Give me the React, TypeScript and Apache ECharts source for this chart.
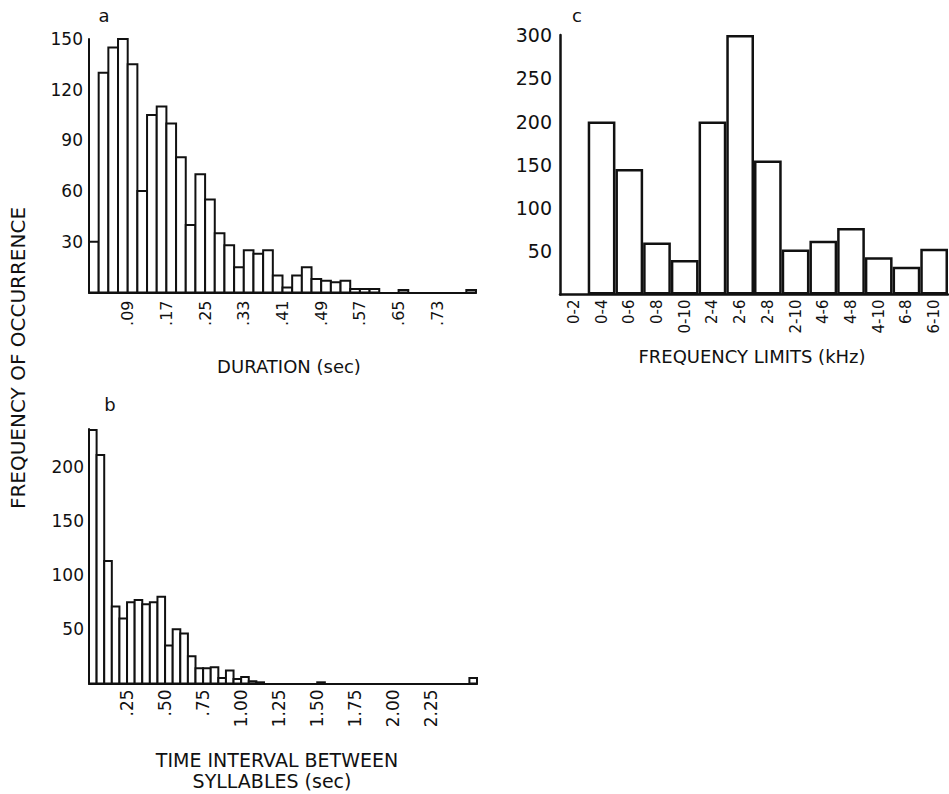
import React, { useEffect, useRef } from 'react';
import * as echarts from 'echarts';

// Panel a: syllable duration histogram (bins of 0.02 s starting at 0.01 s)
const durationBinStart = 0.01;
const durationBinWidth = 0.02;
const durationCounts = [
  30, 130, 145, 150, 135, 60, 105, 110, 100, 80,
  40, 70, 55, 35, 28, 15, 25, 23, 25, 10,
  3, 10, 15, 8, 7, 6, 7, 2, 2, 2,
  0, 0, 1.5, 0, 0, 0, 0, 0, 0, 1.5,
];
const durationXTicks = [0.09, 0.17, 0.25, 0.33, 0.41, 0.49, 0.57, 0.65, 0.73];
const durationYTicks = [30, 60, 90, 120, 150];

// Panel b: time interval between syllables (bins of 0.05 s starting at 0)
const intervalBinStart = 0;
const intervalBinWidth = 0.05;
const intervalCounts = [
  234, 211, 113, 71, 60, 75, 77, 73, 75, 80,
  35, 50, 46, 25, 14, 14, 15, 5, 12, 4,
  6, 2, 1, 0, 0, 0, 0, 0, 0, 0,
  1, 0, 0, 0, 0, 0, 0, 0, 0, 0,
  0, 0, 0, 0, 0, 0, 0, 0, 0, 0,
  5,
];
const intervalXTicks = [0.25, 0.5, 0.75, 1.0, 1.25, 1.5, 1.75, 2.0, 2.25];
const intervalYTicks = [50, 100, 150, 200];

// Panel c: frequency limits
const freqCategories = ['0-2', '0-4', '0-6', '0-8', '0-10', '2-4', '2-6', '2-8', '2-10', '4-6', '4-8', '4-10', '6-8', '6-10'];
const freqCounts = [0, 200, 145, 60, 40, 200, 300, 155, 52, 62, 77, 43, 32, 53];
const freqYTicks = [50, 100, 150, 200, 250, 300];

const FONT = "'DejaVu Sans', 'Noto Sans', sans-serif";
const INK = '#111';

function histData(start: number, width: number, counts: number[]) {
  return counts.map((c, i) => [start + i * width, start + (i + 1) * width, c]);
}

function fmtDec(v: number) {
  return (Math.round(v * 100) / 100).toFixed(2).replace(/^0/, '');
}

const renderHist = (lw: number) => (params: any, api: any) => {
  const x0 = api.value(0);
  const x1 = api.value(1);
  const v = api.value(2);
  if (!v) return null;
  const p0 = api.coord([x0, 0]);
  const p1 = api.coord([x1, v]);
  return {
    type: 'rect',
    shape: { x: p0[0], y: p1[1], width: p1[0] - p0[0], height: p0[1] - p1[1] },
    style: { fill: '#fff', stroke: INK, lineWidth: lw },
  };
};

const axisLineStyle = (w: number) => ({ show: true, lineStyle: { color: INK, width: w } });

export default function App() {
  const ref = useRef<HTMLDivElement>(null);

  useEffect(() => {
    if (!ref.current) return;
    const chart = echarts.init(ref.current, undefined, { renderer: 'svg' });
    const lbl = (size: number) => ({ color: INK, fontFamily: FONT, fontSize: size });
    const title = (text: string, x: number, y: number, size: number, rotation = 0) => ({
      type: 'text', x, y, rotation,
      style: { text, font: `${size}px ${FONT}`, fill: INK, textAlign: 'center', textVerticalAlign: 'middle' },
    });

    chart.setOption({
      animation: false,
      backgroundColor: '#fff',
      grid: [
        { left: 89, top: 39, width: 387, height: 253.5 },
        { left: 89, top: 429, width: 388, height: 254.4 },
        { left: 560, top: 35, width: 388, height: 259.5 },
      ],
      xAxis: [
        {
          gridIndex: 0, type: 'value', min: 0.01, max: 0.81,
          axisLine: axisLineStyle(2), axisTick: { show: false }, splitLine: { show: false },
          axisLabel: { ...lbl(16), customValues: durationXTicks, rotate: 90, margin: 8, formatter: (v: number) => fmtDec(v) },
        },
        {
          gridIndex: 1, type: 'value', min: 0, max: 2.55,
          axisLine: axisLineStyle(2), axisTick: { show: false }, splitLine: { show: false },
          axisLabel: { ...lbl(17), customValues: intervalXTicks, rotate: 90, margin: 6, formatter: (v: number) => fmtDec(v) },
        },
        {
          gridIndex: 2, type: 'category', data: freqCategories, boundaryGap: true,
          axisLine: axisLineStyle(2.5), axisTick: { show: false }, splitLine: { show: false },
          axisLabel: { ...lbl(15), rotate: 90, margin: 5, interval: 0 },
        },
      ],
      yAxis: [
        {
          gridIndex: 0, type: 'value', min: 0, max: 150,
          axisLine: axisLineStyle(2), axisTick: { show: false }, splitLine: { show: false },
          axisLabel: { ...lbl(17), customValues: durationYTicks, margin: 6 },
        },
        {
          gridIndex: 1, type: 'value', min: 0, max: 235,
          axisLine: axisLineStyle(2), axisTick: { show: false }, splitLine: { show: false },
          axisLabel: { ...lbl(17), customValues: intervalYTicks, margin: 5 },
        },
        {
          gridIndex: 2, type: 'value', min: 0, max: 300,
          axisLine: axisLineStyle(2.5), axisTick: { show: false }, splitLine: { show: false },
          axisLabel: { ...lbl(19), customValues: freqYTicks, margin: 8 },
        },
      ],
      series: [
        {
          type: 'custom', xAxisIndex: 0, yAxisIndex: 0,
          renderItem: renderHist(2),
          data: histData(durationBinStart, durationBinWidth, durationCounts),
          encode: { x: [0, 1], y: 2 },
          clip: false,
        },
        {
          type: 'custom', xAxisIndex: 1, yAxisIndex: 1,
          renderItem: renderHist(2),
          data: histData(intervalBinStart, intervalBinWidth, intervalCounts),
          encode: { x: [0, 1], y: 2 },
          clip: false,
        },
        {
          type: 'bar', xAxisIndex: 2, yAxisIndex: 2,
          data: freqCounts.map((c) => (c === 0 ? '-' : c)),
          barWidth: '100%', barCategoryGap: '0%',
          itemStyle: { color: '#fff', borderColor: INK, borderWidth: 2.5 },
        },
      ],
      graphic: [
        title('a', 104, 15, 18),
        title('b', 110, 404, 18),
        title('c', 577, 15, 18),
        title('DURATION (sec)', 289, 366, 18),
        title('FREQUENCY LIMITS (kHz)', 752, 356, 18),
        title('TIME INTERVAL BETWEEN', 277, 760, 19),
        title('SYLLABLES (sec)', 272, 781, 19),
        title('FREQUENCY OF OCCURRENCE', 18, 358, 20, Math.PI / 2),
      ],
    });

    return () => chart.dispose();
  }, []);

  return <div ref={ref} style={{ position: 'absolute', left: 0, top: 0, width: 949, height: 794 }} />;
}
